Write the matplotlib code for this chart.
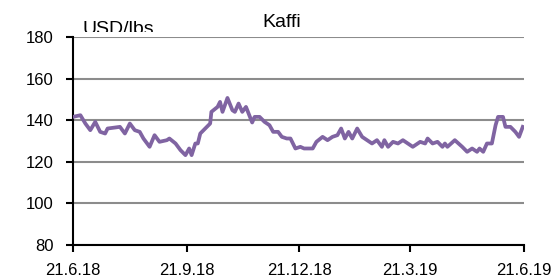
import numpy as np
import matplotlib
matplotlib.use("Agg")
import matplotlib.pyplot as plt
from matplotlib.transforms import Bbox, TransformedBbox

# coffee price, USD/lbs (days after 21.6.18)
days = [0, 6, 10, 14, 18, 22, 26, 28, 38, 42, 46, 50, 54, 57, 62, 66, 70, 76, 78,
        83, 87, 91, 94, 96, 99, 101, 103, 107, 111, 112, 117, 119, 121, 125, 129,
        131, 134, 137, 140, 145, 147, 151, 155, 159, 162, 166, 169, 173, 176, 180,
        184, 187, 194, 197, 202, 206, 210, 214, 217, 220, 223, 226, 230, 234, 238,
        242, 246, 250, 252, 255, 259, 263, 267, 271, 275, 279, 281, 285, 287, 291,
        295, 299, 301, 303, 309, 315, 319, 323, 327, 329, 332, 335, 339, 342, 344,
        348, 350, 354, 358, 361, 364]
price = [141.6, 142.4, 138.4, 135.2, 139.2, 134.4, 133.6, 136.0, 136.8, 133.6,
         138.4, 135.2, 134.4, 131.2, 127.2, 132.8, 129.6, 130.4, 131.2, 128.8,
         125.6, 123.2, 126.4, 123.2, 128.8, 128.8, 133.6, 136.0, 138.4, 144.0,
         146.4, 148.8, 144.0, 150.7, 144.8, 144.0, 148.0, 144.0, 146.4, 138.9,
         141.6, 141.6, 139.2, 137.6, 134.4, 134.4, 132.0, 131.2, 131.2, 126.4,
         127.2, 126.4, 126.4, 129.6, 132.0, 130.4, 132.0, 132.8, 136.0, 131.2,
         134.4, 131.2, 136.0, 132.0, 130.4, 128.8, 130.4, 127.2, 130.4, 127.2,
         129.6, 128.8, 130.4, 128.8, 127.2, 128.8, 129.6, 128.8, 131.2, 128.8,
         129.6, 127.2, 128.8, 127.2, 130.4, 127.2, 124.8, 126.4, 124.8, 126.4,
         124.8, 128.8, 128.8, 137.6, 141.6, 141.6, 136.8, 136.8, 134.4, 132.0,
         136.8]
tick_labels = ["21.6.18", "21.9.18", "21.12.18", "21.3.19", "21.6.19"]
tick_dates = ["2018-06-21", "2018-09-21", "2018-12-21", "2019-03-21", "2019-06-21"]

start = np.datetime64("2018-06-21")
dates = start + np.array(days).astype("timedelta64[D]")

plt.rcParams["font.family"] = ["Liberation Sans", "DejaVu Sans"]

fig = plt.figure(figsize=(5.59, 2.80), dpi=100)
ax = fig.add_axes([73/559, 1 - 245/280, (524 - 73)/559, (245 - 37)/280])

ax.plot(dates, price, color="#8064A2", lw=2.7, solid_joinstyle="round", zorder=3)

ax.set_ylim(80, 180)
ax.set_yticks(range(80, 181, 20))
ax.set_xlim(np.datetime64(tick_dates[0]), np.datetime64(tick_dates[-1]))
ax.set_xticks([np.datetime64(d) for d in tick_dates])
ax.set_xticklabels(tick_labels)

ax.grid(axis="y", color="#8c8c8c", lw=1.5)
ax.set_axisbelow(True)
for s in ["top", "right"]:
    ax.spines[s].set_visible(False)
for s in ["left", "bottom"]:
    ax.spines[s].set_linewidth(1.5)
ax.tick_params(axis="both", direction="out", length=5, width=1.5, labelsize=12)
ax.tick_params(axis="y", pad=9)
ax.tick_params(axis="x", pad=8)

fig.text(282/559, 1 - 26.7/280, "Kaffi", ha="center", va="baseline", fontsize=14)
lbl = fig.text(83/559, 1 - 34/280, "USD/lbs", ha="left", va="baseline", fontsize=14)
# the unit label is cut off at the bottom in the original
lbl.set_clip_box(TransformedBbox(Bbox([[0, 1 - 32/280], [1, 1]]), fig.transFigure))
lbl.set_clip_on(True)

fig.savefig("out.png", dpi=100)
